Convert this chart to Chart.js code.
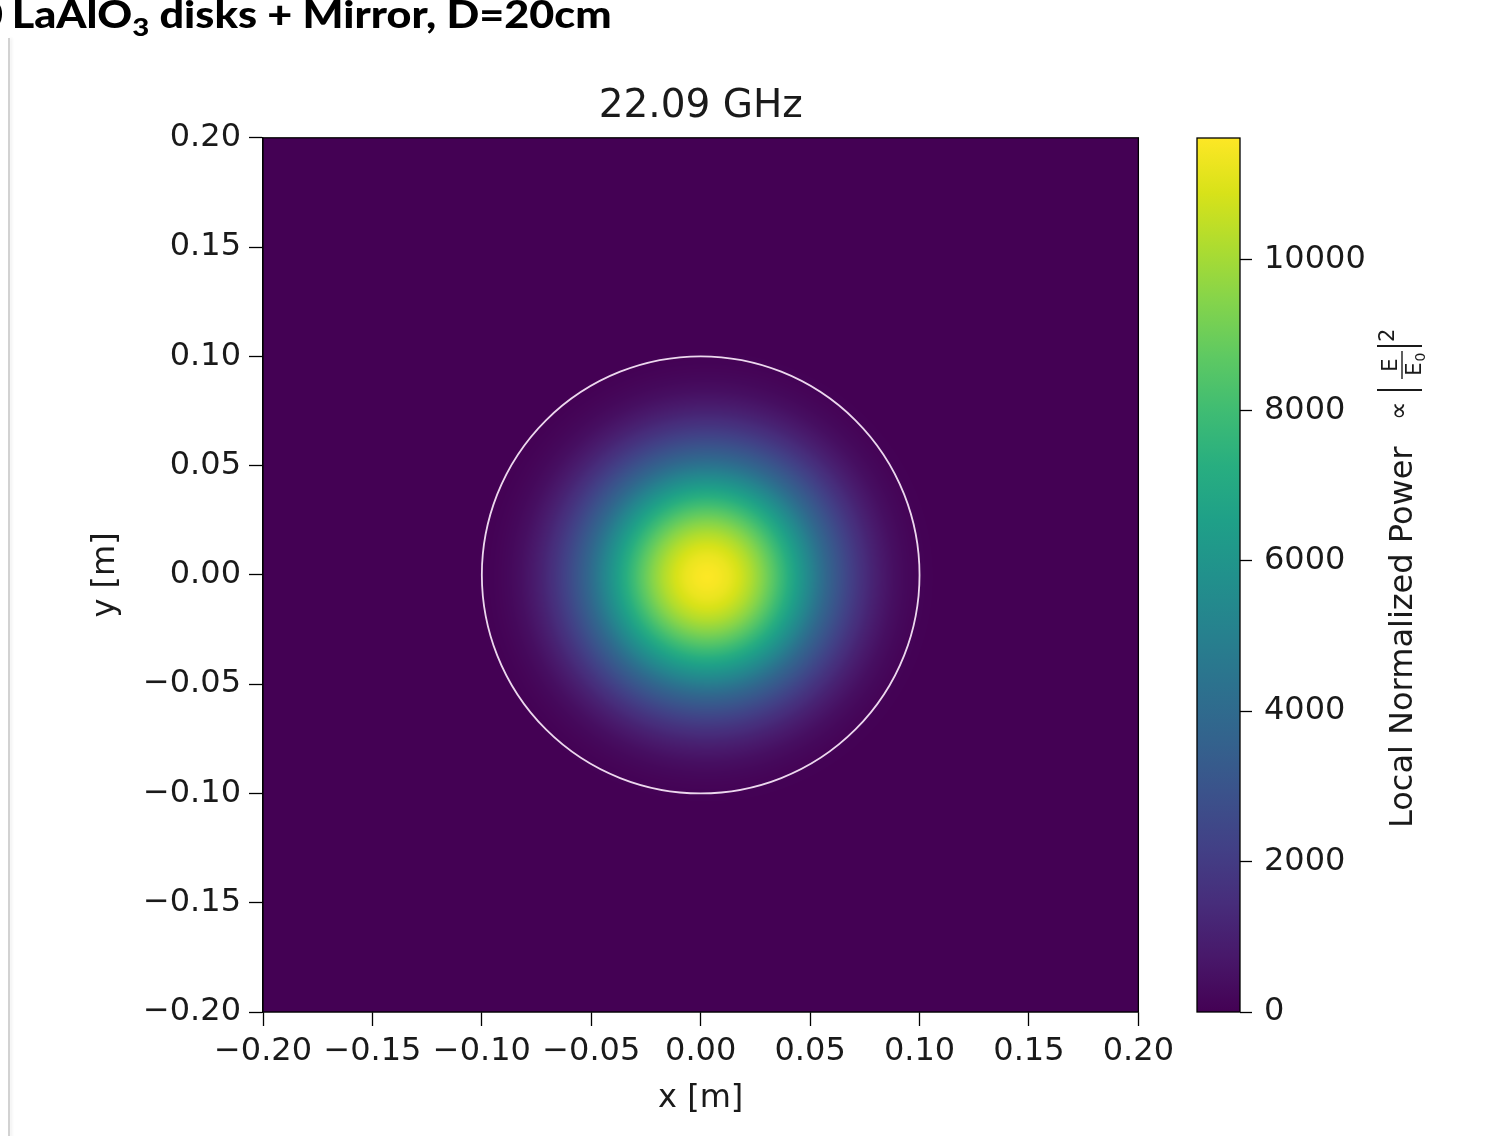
<!DOCTYPE html>
<html>
<head>
<meta charset="utf-8">
<script src="https://cdn.jsdelivr.net/npm/chart.js@4.4.1/dist/chart.umd.min.js"></script>
<style>
  html, body { margin: 0; padding: 0; background: #fff; }
  body { width: 1509px; height: 1136px; position: relative; overflow: hidden; }
  #edge { position: absolute; left: 8px; top: 38px; width: 2px; height: 1100px; background: #d2d2d2; box-shadow: 2px 0 3px rgba(0,0,0,0.07); z-index: 2; }
  #slideTitle { position: absolute; top: -5px; left: 0; font-family: Lato, sans-serif; font-weight: 900; font-size: 37px; line-height: 1; white-space: nowrap; color: #000; transform-origin: 0 0; z-index: 3; }
  #slideTitle sub { font-size: 0.68em; vertical-align: -0.3em; line-height: 0; }
  #lead { margin-right: 0.2em; }
  #mainWrap { position: absolute; left: 0; top: 0; }
  #cbarWrap { position: absolute; left: 1180px; top: 0; }
</style>
</head>
<body>
<div id="edge"></div>
<div id="slideTitle"><span id="lead">0</span><span id="titleMain">LaAlO<sub>3</sub> disks + Mirror, D=20cm</span></div>
<div id="mainWrap"><canvas id="fieldMap" width="1180" height="1136"></canvas></div>
<div id="cbarWrap"><canvas id="colorBar" width="329" height="1136"></canvas></div>
<script>
// axis ticks
const xTicks = [-0.2, -0.15, -0.1, -0.05, 0, 0.05, 0.1, 0.15, 0.2];
const yTicks = [-0.2, -0.15, -0.1, -0.05, 0, 0.05, 0.1, 0.15, 0.2];
const cbarTicks = [0, 2000, 4000, 6000, 8000, 10000];
const cbarMax = 11620;

// beam spot: centre (m) and radial power profile
const spotCenter = [0.003, -0.001];
const radius = [0, 0.005, 0.01, 0.015, 0.02, 0.025, 0.03, 0.035, 0.04, 0.045, 0.05,
                0.055, 0.06, 0.065, 0.07, 0.075, 0.08, 0.085, 0.09, 0.095, 0.1, 0.105];
const power = [11620, 11500, 11250, 10800, 10200, 9450, 8600, 7650, 6650, 5650, 4650,
               3700, 2950, 2250, 1650, 1150, 750, 450, 250, 120, 40, 0];

// disk outline (D = 20cm)
const diskRadius = 0.1;

const viridis = ['#440154', '#48186a', '#472d7b', '#424086', '#3b528b', '#33638d', '#2c728e', '#26828e',
                 '#21918c', '#1fa088', '#28ae80', '#3fbc73', '#5ec962', '#84d44b', '#addc30', '#d8e219', '#fde725'];

const textColor = '#1a1a1a';
const tickFont = { family: 'DejaVu Sans', size: 32 };

const viridisRGB = viridis.map(h => [parseInt(h.slice(1, 3), 16), parseInt(h.slice(3, 5), 16), parseInt(h.slice(5, 7), 16)]);

function colorAt(t) {
    t = Math.min(1, Math.max(0, t));
    const p = t * (viridisRGB.length - 1);
    const i = Math.min(Math.floor(p), viridisRGB.length - 2);
    const f = p - i;
    const a = viridisRGB[i], b = viridisRGB[i + 1];
    return [a[0] + (b[0] - a[0]) * f, a[1] + (b[1] - a[1]) * f, a[2] + (b[2] - a[2]) * f];
}

function profileAt(r) {
    if (r >= radius[radius.length - 1]) return power[power.length - 1];
    for (let i = 0; i < radius.length - 1; i++) {
        if (r < radius[i + 1]) {
            const f = (r - radius[i]) / (radius[i + 1] - radius[i]);
            return power[i] + (power[i + 1] - power[i]) * f;
        }
    }
    return 0;
}

function fmt(v) {
    const s = Math.abs(v).toFixed(2);
    return (v < -1e-9 ? '\u2212' : '') + s;
}

const heatmap = {
    id: 'heatmap',
    beforeDatasetsDraw(chart) {
        const { ctx, chartArea: a, scales: { x, y } } = chart;
        const w = Math.round(a.right - a.left), h = Math.round(a.bottom - a.top);
        const off = document.createElement('canvas');
        off.width = w; off.height = h;
        const octx = off.getContext('2d');
        const img = octx.createImageData(w, h);
        for (let j = 0; j < h; j++) {
            const yv = y.getValueForPixel(a.top + j + 0.5) - spotCenter[1];
            for (let i = 0; i < w; i++) {
                const xv = x.getValueForPixel(a.left + i + 0.5) - spotCenter[0];
                const c = colorAt(profileAt(Math.sqrt(xv * xv + yv * yv)) / cbarMax);
                const k = (j * w + i) * 4;
                img.data[k] = c[0]; img.data[k + 1] = c[1]; img.data[k + 2] = c[2]; img.data[k + 3] = 255;
            }
        }
        octx.putImageData(img, 0, 0);
        ctx.drawImage(off, a.left, a.top);

        ctx.save();
        const cx = x.getPixelForValue(0), cy = y.getPixelForValue(0);
        const rx = x.getPixelForValue(diskRadius) - cx, ry = cy - y.getPixelForValue(diskRadius);
        ctx.beginPath();
        ctx.ellipse(cx, cy, rx, ry, 0, 0, Math.PI * 2);
        ctx.strokeStyle = 'rgba(255,240,255,0.9)';
        ctx.lineWidth = 1.8;
        ctx.stroke();
        ctx.strokeStyle = '#000';
        ctx.lineWidth = 1.3;
        ctx.strokeRect(a.left, a.top, a.right - a.left, a.bottom - a.top);
        ctx.restore();
    }
};

const colorbarFill = {
    id: 'colorbarFill',
    beforeDatasetsDraw(chart) {
        const { ctx, chartArea: a } = chart;
        const g = ctx.createLinearGradient(0, a.bottom, 0, a.top);
        viridis.forEach((c, k) => g.addColorStop(k / (viridis.length - 1), c));
        ctx.save();
        ctx.fillStyle = g;
        ctx.fillRect(a.left, a.top, a.right - a.left, a.bottom - a.top);
        ctx.strokeStyle = '#000';
        ctx.lineWidth = 1.3;
        ctx.strokeRect(a.left, a.top, a.right - a.left, a.bottom - a.top);
        ctx.restore();
    },
    afterDraw(chart) {
        // rotated label: Local Normalized Power ∝ |E/E0|^2
        const ctx = chart.ctx;
        const baseX = 1412 - 1180, startY = 828;
        ctx.save();
        ctx.translate(baseX, startY);
        ctx.rotate(-Math.PI / 2);
        ctx.fillStyle = textColor;
        ctx.strokeStyle = textColor;
        ctx.textBaseline = 'alphabetic';
        ctx.textAlign = 'left';
        ctx.font = '32px "DejaVu Sans"';
        ctx.fillText('Local Normalized Power', 0, 0);
        ctx.font = '26px "DejaVu Sans"';
        ctx.textBaseline = 'middle';
        ctx.fillText('\u221d', 408, -12);
        ctx.textBaseline = 'alphabetic';
        ctx.lineWidth = 1.8;
        ctx.beginPath();
        ctx.moveTo(438, -35); ctx.lineTo(438, 10);
        ctx.moveTo(482, -35); ctx.lineTo(482, 10);
        ctx.stroke();
        ctx.lineWidth = 1.4;
        ctx.beginPath();
        ctx.moveTo(449, -10); ctx.lineTo(477, -10);
        ctx.stroke();
        ctx.font = '21px "DejaVu Sans"';
        ctx.textAlign = 'center';
        ctx.fillText('E', 463, -15);
        ctx.fillText('E', 459, 9);
        ctx.font = '14px "DejaVu Sans"';
        ctx.fillText('0', 471, 13);
        ctx.font = '21px "DejaVu Sans"';
        ctx.textAlign = 'left';
        ctx.fillText('2', 486, -18);
        ctx.restore();
    }
};

new Chart(document.getElementById('fieldMap'), {
    type: 'scatter',
    data: { datasets: [{ data: [], pointRadius: 0 }] },
    options: {
        responsive: false,
        animation: false,
        layout: { padding: { left: 0, right: 41, top: 0, bottom: 0 } },
        plugins: {
            legend: { display: false },
            tooltip: { enabled: false },
            title: {
                display: true,
                text: '22.09 GHz',
                fullSize: false,
                color: textColor,
                font: { family: 'DejaVu Sans', size: 39, weight: 'normal' },
                padding: { top: 83, bottom: 8 }
            }
        },
        scales: {
            x: {
                type: 'linear', min: -0.2, max: 0.2,
                afterBuildTicks: s => { s.ticks = xTicks.map(v => ({ value: v })); },
                afterFit: s => { s.height = 124; },
                grid: { drawOnChartArea: false, tickLength: 14, tickColor: '#000', tickWidth: 1.3 },
                border: { display: true, color: '#000', width: 1.3 },
                ticks: { callback: fmt, font: tickFont, color: textColor, padding: 6, maxRotation: 0, autoSkip: false },
                title: { display: true, text: 'x [m]', font: tickFont, color: textColor, padding: { top: 0, bottom: 18 } }
            },
            y: {
                type: 'linear', min: -0.2, max: 0.2,
                afterBuildTicks: s => { s.ticks = yTicks.map(v => ({ value: v })); },
                afterFit: s => { s.width = 263; },
                grid: { drawOnChartArea: false, tickLength: 14, tickColor: '#000', tickWidth: 1.3 },
                border: { display: true, color: '#000', width: 1.3 },
                ticks: { callback: fmt, font: tickFont, color: textColor, padding: 8, autoSkip: false },
                title: { display: true, text: 'y [m]', font: tickFont, color: textColor, padding: { top: 86, bottom: 0 } }
            }
        }
    },
    plugins: [heatmap]
});

new Chart(document.getElementById('colorBar'), {
    type: 'scatter',
    data: { datasets: [{ data: [], pointRadius: 0 }] },
    options: {
        responsive: false,
        animation: false,
        layout: { padding: { left: 17, right: 0, top: 138, bottom: 124 } },
        plugins: { legend: { display: false }, tooltip: { enabled: false } },
        scales: {
            x: { display: false, min: 0, max: 1 },
            y: {
                position: 'right', min: 0, max: cbarMax,
                afterBuildTicks: s => { s.ticks = cbarTicks.map(v => ({ value: v })); },
                afterFit: s => { s.width = 269; },
                grid: { drawOnChartArea: false, tickLength: 12, tickColor: '#000', tickWidth: 1.3 },
                border: { display: false },
                ticks: { callback: v => String(v), font: tickFont, color: textColor, padding: 12 }
            }
        }
    },
    plugins: [colorbarFill]
});

// fit the cropped slide heading to its width in the picture
(function placeTitle() {
    const box = document.getElementById('slideTitle');
    const main = document.getElementById('titleMain');
    const s = 600 / main.getBoundingClientRect().width;
    box.style.transform = 'scaleX(' + s + ')';
    box.style.left = (12 - main.offsetLeft * s) + 'px';
})();
</script>
</body>
</html>
